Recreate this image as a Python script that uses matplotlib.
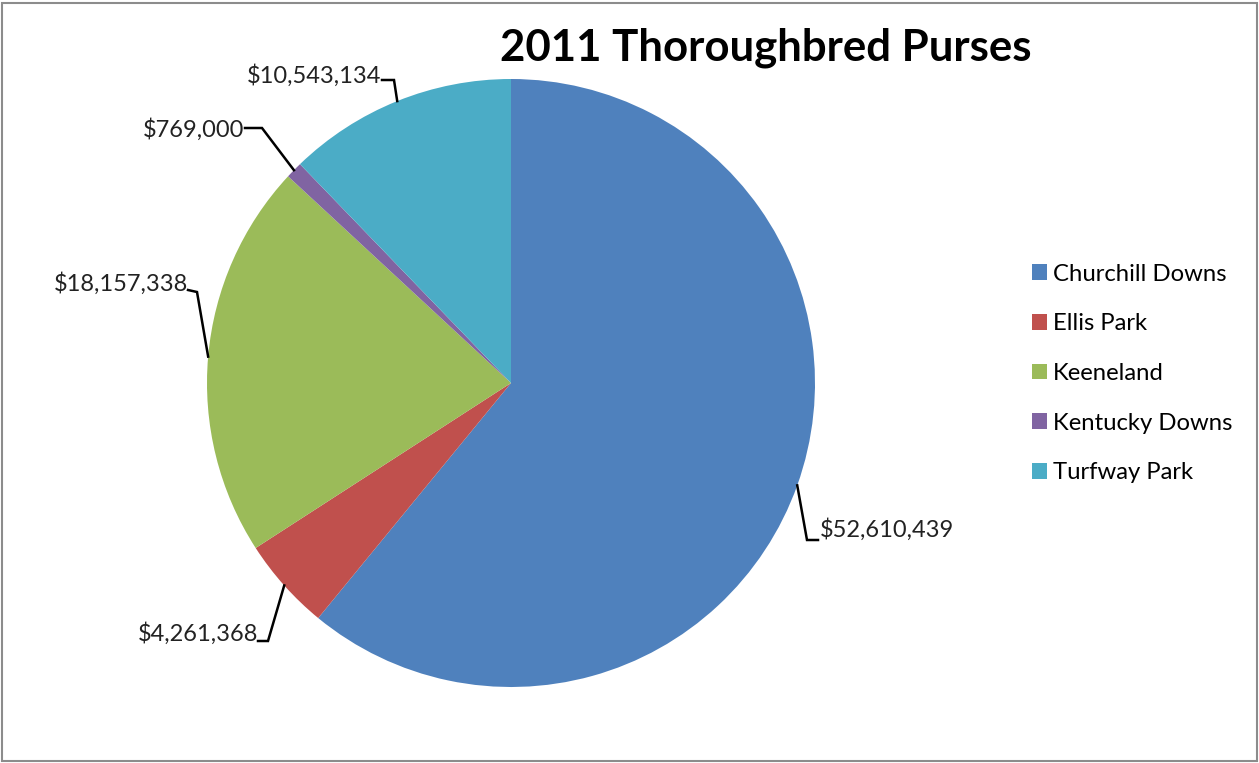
import numpy as np
import matplotlib.pyplot as plt
from matplotlib.patches import Rectangle

tracks = ["Churchill Downs", "Ellis Park", "Keeneland", "Kentucky Downs", "Turfway Park"]
purses = [52610439, 4261368, 18157338, 769000, 10543134]
colors = ["#4F81BD", "#C0504D", "#9BBB59", "#8064A2", "#4BACC6"]

plt.rcParams['font.family'] = ['Lato', 'DejaVu Sans']

W, H = 1259, 763
fig = plt.figure(figsize=(W / 100, H / 100), dpi=100)
ax = fig.add_axes([0, 0, 1, 1])

# pixel positions measured from the top, flipped for a y-up axis
cx, cy, r = 511, H - 383, 304
wedges, _ = ax.pie(purses, colors=colors, startangle=90, counterclock=False,
                   radius=r, center=(cx, cy), frame=True,
                   wedgeprops=dict(linewidth=0))
ax.set_xlim(0, W)
ax.set_ylim(0, H)
ax.set_aspect('equal')
ax.axis('off')

# label anchors: (text x, text y from top, ha, elbow points from top)
label_layout = [
    (820, 530, 'left', [(818, 540), (807, 540)]),
    (258, 634, 'right', [(258, 641), (268, 641)]),
    (188, 284, 'right', [(188, 290), (197, 292)]),
    (244, 130, 'right', [(245, 128), (262, 128)]),
    (381, 76, 'right', [(382, 80), (394, 80)]),
]

for w, val, (tx, ty, ha, elbow) in zip(wedges, purses, label_layout):
    mid = np.deg2rad((w.theta1 + w.theta2) / 2)
    ex = cx + r * np.cos(mid)
    ey = cy + r * np.sin(mid)
    pts = [(x, H - y) for x, y in elbow] + [(ex, ey)]
    ax.plot([p[0] for p in pts], [p[1] for p in pts], color='black', lw=1.8,
            solid_joinstyle='miter')
    ax.text(tx, H - ty, "${:,}".format(val), ha=ha, va='center', fontsize=17,
            color='#222222')

ax.legend(wedges, tracks, loc='upper left', bbox_to_anchor=(1022 / W, 1 - 254 / H),
          frameon=False, fontsize=17.2, handlelength=0.65, handleheight=0.65,
          handletextpad=0.25, labelspacing=1.2, borderaxespad=0)

fig.text(766 / W, 1 - 48 / H, "2011 Thoroughbred Purses", ha='center', va='center',
         fontsize=31.5, fontweight='bold')

fig.patches.append(Rectangle((2 / W, 2 / H), 1 - 4 / W, 1 - 5 / H, transform=fig.transFigure,
                             fill=False, edgecolor='#8c8c8c', lw=1.5))

fig.savefig('out.png', dpi=100)
